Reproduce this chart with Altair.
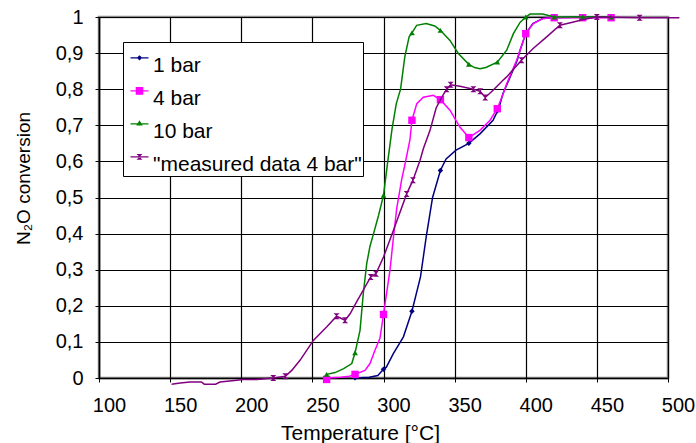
import altair as alt
import pandas as pd

series_names = ["1 bar", "4 bar", "10 bar", "\"measured data 4 bar\""]
series_colors = ["#000080", "#ff00ff", "#008000", "#800080"]

# ---- 1 bar (line) ----
t_1bar = [280, 290, 296, 300, 302, 307, 314, 320, 326, 330, 334.5, 340, 344, 351, 360, 368, 377, 381, 384, 387, 394, 396, 400, 405, 412, 420, 440, 460]
c_1bar = [0.0, 0.002, 0.007, 0.024, 0.03, 0.068, 0.114, 0.185, 0.28, 0.39, 0.50, 0.575, 0.607, 0.631, 0.650, 0.677, 0.714, 0.746, 0.788, 0.815, 0.88, 0.908, 0.954, 0.982, 0.996, 0.998, 1.0, 1.0]
mt_1bar = [280, 300, 320, 340, 360, 380, 400, 420, 440, 460]
mc_1bar = [0.001, 0.024, 0.185, 0.575, 0.650, 0.74, 0.954, 0.998, 1.0, 1.0]

# ---- 4 bar ----
t_4bar = [260, 270, 276, 280, 287, 290.5, 294, 297.5, 300, 304.6, 307, 309.3, 312.8, 315, 318.6, 320, 323.4, 328, 335, 340, 346.7, 353.7, 360, 367.8, 374.9, 380, 384.2, 386.6, 393.6, 396, 400, 405.3, 412.3, 420, 440, 460]
c_4bar = [0.0, 0.002, 0.005, 0.01, 0.021, 0.04, 0.077, 0.11, 0.176, 0.30, 0.39, 0.47, 0.55, 0.59, 0.66, 0.714, 0.76, 0.778, 0.783, 0.771, 0.742, 0.695, 0.666, 0.686, 0.714, 0.746, 0.788, 0.815, 0.88, 0.908, 0.954, 0.982, 0.996, 0.998, 0.998, 0.998]
mt_4bar = [260, 280, 300, 320, 340, 360, 380, 400, 420, 440, 460]
mc_4bar = [-0.004, 0.01, 0.176, 0.714, 0.771, 0.666, 0.746, 0.954, 0.998, 0.998, 0.998]

# ---- 10 bar ----
t_10bar = [260, 266, 272, 277.7, 280, 283.5, 285.8, 288.2, 290.5, 293, 296.5, 300, 303, 306, 309, 312, 315, 318, 320, 323.3, 330, 336, 340, 346.7, 352.6, 360, 364, 367.8, 372, 380, 386.6, 391.3, 396, 400, 403, 412, 420, 440, 460]
c_10bar = [0.01, 0.015, 0.026, 0.04, 0.07, 0.132, 0.234, 0.317, 0.365, 0.40, 0.45, 0.506, 0.60, 0.69, 0.76, 0.80, 0.89, 0.945, 0.956, 0.977, 0.982, 0.975, 0.963, 0.935, 0.899, 0.869, 0.86, 0.857, 0.86, 0.875, 0.908, 0.954, 0.985, 1.0, 1.008, 1.008, 1.0, 1.0, 1.0]
mt_10bar = [260, 280, 300, 320, 340, 360, 380, 400, 420, 440, 460]
mc_10bar = [0.01, 0.07, 0.506, 0.956, 0.963, 0.869, 0.875, 1.0, 1.0, 1.0, 1.0]

# ---- measured data 4 bar ----
t_meas = [151, 157, 164, 172, 174, 182, 185, 197, 201, 211, 222.5, 231, 235.5, 241.3, 250.7, 260, 267, 273, 276.5, 281, 291, 294.7, 300, 307, 316.3, 320.7, 325.7, 328, 332.7, 337, 341, 344.4, 347.2, 353.8, 363.2, 368, 371.5, 377, 384, 386.6, 397, 405, 414.7, 424, 433.6, 440.5, 450, 480, 508]
c_meas = [-0.017, -0.014, -0.011, -0.011, -0.017, -0.017, -0.011, -0.006, -0.004, -0.004, 0.0, 0.005, 0.021, 0.049, 0.104, 0.141, 0.171, 0.16, 0.178, 0.21, 0.28, 0.289, 0.335, 0.409, 0.51, 0.548, 0.603, 0.635, 0.686, 0.748, 0.778, 0.80, 0.812, 0.808, 0.80, 0.794, 0.777, 0.797, 0.825, 0.834, 0.88, 0.912, 0.945, 0.977, 0.986, 0.993, 1.0, 0.998, 0.998]
mt_meas = [222.5, 231, 267, 273, 291, 294.7, 316.3, 320.7, 344.4, 347.2, 363.2, 368, 371.5, 397, 424, 450, 480]
mc_meas = [0.0, 0.005, 0.171, 0.16, 0.28, 0.289, 0.51, 0.548, 0.80, 0.812, 0.80, 0.794, 0.777, 0.88, 0.977, 1.0, 0.998]

x_ticks = [100, 150, 200, 250, 300, 350, 400, 450, 500]
y_ticks = [0, 0.1, 0.2, 0.3, 0.4, 0.5, 0.6, 0.7, 0.8, 0.9, 1]

line_sets = [(t_1bar, c_1bar), (t_4bar, c_4bar), (t_10bar, c_10bar), (t_meas, c_meas)]
mark_sets = [(mt_1bar, mc_1bar), (mt_4bar, mc_4bar), (mt_10bar, mc_10bar), (mt_meas, mc_meas)]

line_rows = []
for name, (ts, cs) in zip(series_names, line_sets):
    for i, (t, c) in enumerate(zip(ts, cs)):
        line_rows.append({"series": name, "T": t, "conv": c, "i": i})
mark_rows = []
for name, (ts, cs) in zip(series_names, mark_sets):
    for t, c in zip(ts, cs):
        mark_rows.append({"series": name, "T": t, "conv": c})

lines_df = pd.DataFrame(line_rows)
marks_df = pd.DataFrame(mark_rows)

FONT = "Liberation Sans"
hourglass = "M-1,-1L1,-1L-1,1L1,1Z"
marker_shapes = ["diamond", "square", "triangle-up", hourglass]
marker_sizes = [30, 55, 32, 36]

x_scale = alt.Scale(domain=[100, 500], nice=False, zero=False)
y_scale = alt.Scale(domain=[0, 1], nice=False, zero=False)

x_axis = alt.Axis(
    values=x_ticks, title="Temperature [°C]", grid=True, gridColor="black", gridWidth=1.2,
    domainColor="black", domainWidth=1.5, tickColor="black", tickSize=4,
    labelFont=FONT, labelFontSize=20, labelColor="black", labelPadding=13, labelOffset=10,
    labelFlush=False, labelOverlap=False,
    titleFont=FONT, titleFontSize=21, titleFontWeight="normal", titleColor="black",
    titleX=261, titleY=44, titleBaseline="top", titleAlign="center",
)
y_axis = alt.Axis(
    values=y_ticks, title="N₂O conversion", grid=True, gridColor="black", gridWidth=1.2,
    domainColor="black", domainWidth=1.5, tickColor="black", tickSize=4,
    labelFont=FONT, labelFontSize=20, labelColor="black", labelPadding=12,
    labelFlush=False, labelOverlap=False,
    labelExpr="datum.value == 0 ? '0' : datum.value == 1 ? '1' : replace(format(datum.value, '.1f'), '.', ',')",
    titleFont=FONT, titleFontSize=19, titleFontWeight="normal", titleColor="black",
    titleX=-76, titleY=161, titleBaseline="middle", titleAlign="center", titleAngle=270,
)

# legend symbols: a short line with the marker on it (raised a little, as in the reference)
p_line = "M-1,-0.93L1,-0.93L1,-0.77L-1,-0.77Z"
legend_paths = [
    p_line + "M0,-1.15L0.3,-0.85L0,-0.55L-0.3,-0.85Z",
    p_line + "M-0.42,-1.27L0.42,-1.27L0.42,-0.43L-0.42,-0.43Z",
    p_line + "M0,-1.25L0.36,-0.68L-0.36,-0.68Z",
    p_line + "M-0.33,-1.18L0.33,-1.18L-0.33,-0.52L0.33,-0.52Z",
]

legend = alt.Legend(
    orient="none", legendX=24, legendY=25, title=" ", titleFontSize=6, titlePadding=6,
    labelFont=FONT, labelFontSize=21, labelColor="black", labelOffset=3, labelLimit=400,
    symbolSize=324, symbolStrokeWidth=0, symbolOpacity=1, symbolOffset=5,
    rowPadding=11, padding=1,
    strokeColor="black", fillColor="white", cornerRadius=0,
)

X = alt.X("T:Q", scale=x_scale, axis=x_axis)
Y = alt.Y("conv:Q", scale=y_scale, axis=y_axis)

layers = []
for name, col, shp, sz in zip(series_names, series_colors, marker_shapes, marker_sizes):
    layers.append(
        alt.Chart(lines_df).transform_filter(alt.datum.series == name)
        .mark_line(strokeWidth=1.5, color=col)
        .encode(x=X, y=Y, order="i:Q")
    )
    layers.append(
        alt.Chart(marks_df).transform_filter(alt.datum.series == name)
        .mark_point(filled=True, opacity=1, strokeWidth=0, shape=shp, size=sz, color=col)
        .encode(x=X, y=Y)
    )

legend_layer = alt.Chart(marks_df).mark_point(
    filled=True, opacity=0, strokeWidth=0
).encode(
    x=X, y=Y,
    color=alt.Color("series:N", scale=alt.Scale(domain=series_names, range=series_colors), legend=legend),
    shape=alt.Shape("series:N", scale=alt.Scale(domain=series_names, range=legend_paths), legend=legend),
)

chart = alt.layer(*layers, legend_layer).properties(
    width=569, height=361,
    autosize=alt.AutoSizeParams(type="none"),
    padding={"left": 99, "top": 17, "right": 28, "bottom": 65},
    background="white",
).configure_view(stroke="#8c8c8c", strokeWidth=2.5)

chart.save("out.html", embed_options={"renderer": "svg", "actions": False})
